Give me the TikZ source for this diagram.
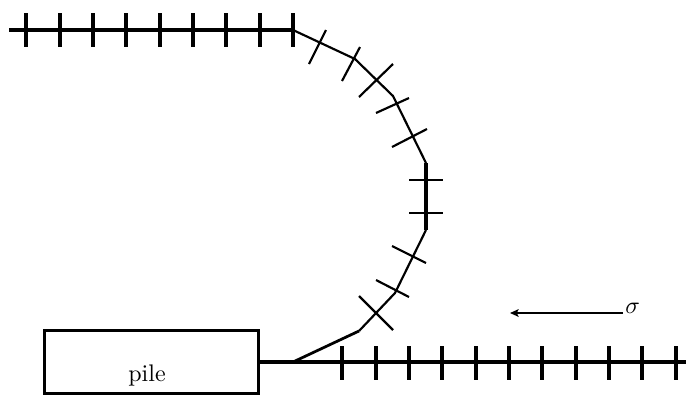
\documentclass[tikz,border=0pt]{standalone}
\usetikzlibrary{arrows.meta}
\begin{document}
\begin{tikzpicture}[x=0.4167pt,y=-0.4167pt,
  rail/.style={line width=1.3pt},
  sleeper/.style={line width=1.6pt},
  curveline/.style={line width=0.9pt, line join=round},
  slant/.style={line width=0.9pt},
  flat/.style={line width=1.2pt},
]
\useasboundingbox (0,0) rectangle (686,396);
% top straight track
\coordinate (t0) at (9,30);
\coordinate (t1) at (293,30);
\draw[rail] (t0) -- (t1);
\foreach \x in {26,60,93,126,160,193,226,260,293}
  \draw[sleeper] (\x,13) -- (\x,47);
% curve vertices
\coordinate (p1) at (355,59);
\coordinate (p2) at (393,96);
\coordinate (p3) at (426,163);
\coordinate (p4) at (426,230);
\coordinate (p5) at (395,293);
\coordinate (p6) at (359,331);
\coordinate (p7) at (293,362);
\draw[curveline] (t1) -- (p1) -- (p2) -- (p3);
\draw[line width=1.6pt] (p3) -- (p4);
\draw[curveline] (p4) -- (p5) -- (p6);
\draw[line width=1.15pt] (p6) -- (p7);
% curve sleepers
\foreach \a/\b/\c/\d in {309/64/326/30, 342/81/360/47, 359/97/393/64,
    376/113/409/98, 392/147/427/129, 392/246/426/263, 376/280/409/297,
    359/296/393/330}
  \draw[slant] (\a,\b) -- (\c,\d);
\draw[flat] (409,180) -- (443,180);
\draw[flat] (409,213) -- (443,213);
% pile box and bottom track
\node[draw, rectangle, line width=1.35pt, inner sep=0pt,
  minimum width=89.2pt, minimum height=26.2pt] (pilebox) at (151.5,362) {};
\node[anchor=base, inner sep=0pt] (piletext) at (147,381) {pile};
\coordinate (b1) at (686,362);
\draw[rail] (pilebox.east) -- (b1);
\foreach \x in {342,376,409,442,476,509,542,576,609,642,676}
  \draw[sleeper] (\x,346) -- (\x,380);
% stress arrow
\coordinate (sstart) at (623,313);
\coordinate (send) at (510,313);
\draw[line width=1.1pt, -{Stealth[length=3.6pt,width=3.2pt,inset=0.8pt]}] (sstart) -- (send);
\node[anchor=base west, inner sep=0pt] (sigma) at (625,313) {$\sigma$};
\end{tikzpicture}
\end{document}
